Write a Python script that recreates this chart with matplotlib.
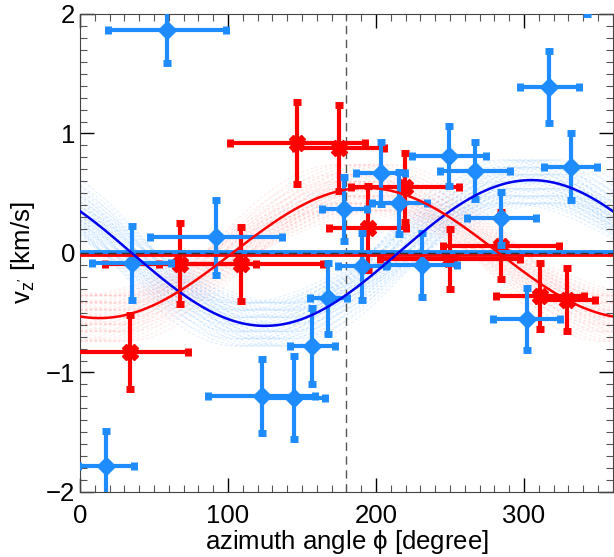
import numpy as np
import matplotlib
matplotlib.use("Agg")
import matplotlib.pyplot as plt
from matplotlib.ticker import MultipleLocator

plt.rcParams['font.family'] = ['Liberation Sans', 'DejaVu Sans']
plt.rcParams['mathtext.fontset'] = 'custom'
plt.rcParams['mathtext.rm'] = 'Liberation Sans'
plt.rcParams['mathtext.it'] = 'Liberation Sans'

# blue sample (diamonds)
blue_phi = [58.8, 17.6, 34.9, 91.9, 122.7, 144.4, 157.0, 167.8, 178.6, 203.2,
            215.8, 231.0, 190.8, 249.3, 266.9, 284.5, 317.1, 331.5, 301.8, 342.6]
blue_vz = [1.87, -1.78, -0.08, 0.13, -1.20, -1.21, -0.78, -0.38, 0.37, 0.67,
           0.42, -0.10, -0.11, 0.81, 0.69, 0.29, 1.39, 0.72, -0.55, 2.30]
blue_phi_err = [40.0, 19.0, 26.7, 44.7, 36.4, 21.4, 15.2, 12.6, 15.4, 16.7,
                18.6, 23.6, 16.2, 25.0, 23.9, 23.3, 19.8, 17.8, 22.5, 18.0]
blue_vz_err = [0.28, 0.29, 0.31, 0.31, 0.31, 0.35, 0.32, 0.30, 0.27, 0.26,
               0.26, 0.27, 0.28, 0.25, 0.24, 0.22, 0.30, 0.28, 0.26, 0.30]

# red sample (crosses)
red_phi = [33.8, 67.6, 108.8, 146.8, 175.2, 194.4, 219.6, 250.0, 284.5, 310.8, 328.8]
red_vz = [-0.83, -0.09, -0.09, 0.92, 0.88, 0.21, 0.55, -0.05, 0.06, -0.36, -0.39]
red_phi_err = [39.0, 51.0, 55.6, 45.6, 30.2, 26.0, 36.6, 47.3, 39.0, 30.0, 19.2]
red_vz_err = [0.31, 0.34, 0.31, 0.34, 0.36, 0.35, 0.29, 0.25, 0.28, 0.28, 0.265]

# best-fit sinusoids: amplitude [km/s], phase of maximum [deg]
blue_amp, blue_peak = 0.61, 305.0
red_amp, red_peak = 0.545, 193.0
blue_mean, red_mean = 0.005, -0.015

# posterior samples drawn as faint curves
blue_amp_samples = [0.42, 0.48, 0.54, 0.60, 0.66, 0.72, 0.78]
blue_peak_samples = [286, 292, 298, 304, 310, 316, 322]
red_amp_samples = [0.36, 0.42, 0.48, 0.54, 0.60, 0.66, 0.74]
red_peak_samples = [174, 180, 186, 192, 198, 204, 210]

BLUE = '#1E8CFF'
RED = '#FF0000'

fig = plt.figure(figsize=(6.14, 5.57), dpi=100)
ax = fig.add_axes([0.1303, 0.1167, 0.8677, 0.8582])

phi = np.linspace(0, 360, 361)

#faint sample curves
for a in blue_amp_samples:
    for p in blue_peak_samples:
        ax.plot(phi, a*np.cos(np.radians(phi-p)), color=BLUE, lw=0.7,
                ls=(0, (3, 2)), alpha=0.14, zorder=1)
for a in red_amp_samples:
    for p in red_peak_samples:
        ax.plot(phi, a*np.cos(np.radians(phi-p)), color='#FF5050', lw=0.7,
                ls=(0, (3, 2)), alpha=0.12, zorder=1)

#reference lines
ax.axvline(180, color='#555555', lw=1, ls=(0, (6, 4)), zorder=2)

#data with error bars
ax.errorbar(red_phi, red_vz, xerr=red_phi_err, yerr=red_vz_err, fmt='X',
            color=RED, ms=11, elinewidth=3, capsize=3, capthick=5, zorder=4)
ax.errorbar(blue_phi, blue_vz, xerr=blue_phi_err, yerr=blue_vz_err, fmt='D',
            color=BLUE, ms=9, elinewidth=3, capsize=3, capthick=5, zorder=5)

#mean levels and fits
ax.axhline(blue_mean, color=BLUE, lw=3.5, zorder=6)
ax.axhline(red_mean, color=RED, lw=2, zorder=6)
ax.axhline(0, color='#333333', lw=1, ls=(0, (6, 4)), zorder=7)
ax.plot(phi, blue_amp*np.cos(np.radians(phi-blue_peak)), color='#0000EE', lw=1.8, zorder=7)
ax.plot(phi, red_amp*np.cos(np.radians(phi-red_peak)), color=RED, lw=1.8, zorder=7)

ax.set_xlim(0, 360)
ax.set_ylim(-2, 2)
ax.xaxis.set_major_locator(MultipleLocator(100))
ax.xaxis.set_minor_locator(MultipleLocator(10))
ax.yaxis.set_major_locator(MultipleLocator(1))
ax.yaxis.set_minor_locator(MultipleLocator(0.1))
ax.tick_params(which='both', direction='in', top=True, right=True, labelsize=18.5)
ax.tick_params(axis='x', pad=9)
ax.tick_params(which='major', length=10, width=1)
ax.tick_params(which='minor', length=5, width=0.8, color='#555555')
for s in ax.spines.values():
    s.set_color('#444444')
ax.set_xlabel(r'azimuth angle $\phi$ [degree]', fontsize=18.5, labelpad=0)
ax.set_ylabel(r"v$_{z'}$ [km/s]", fontsize=18.5, labelpad=6)

fig.savefig('out.png', dpi=100)
